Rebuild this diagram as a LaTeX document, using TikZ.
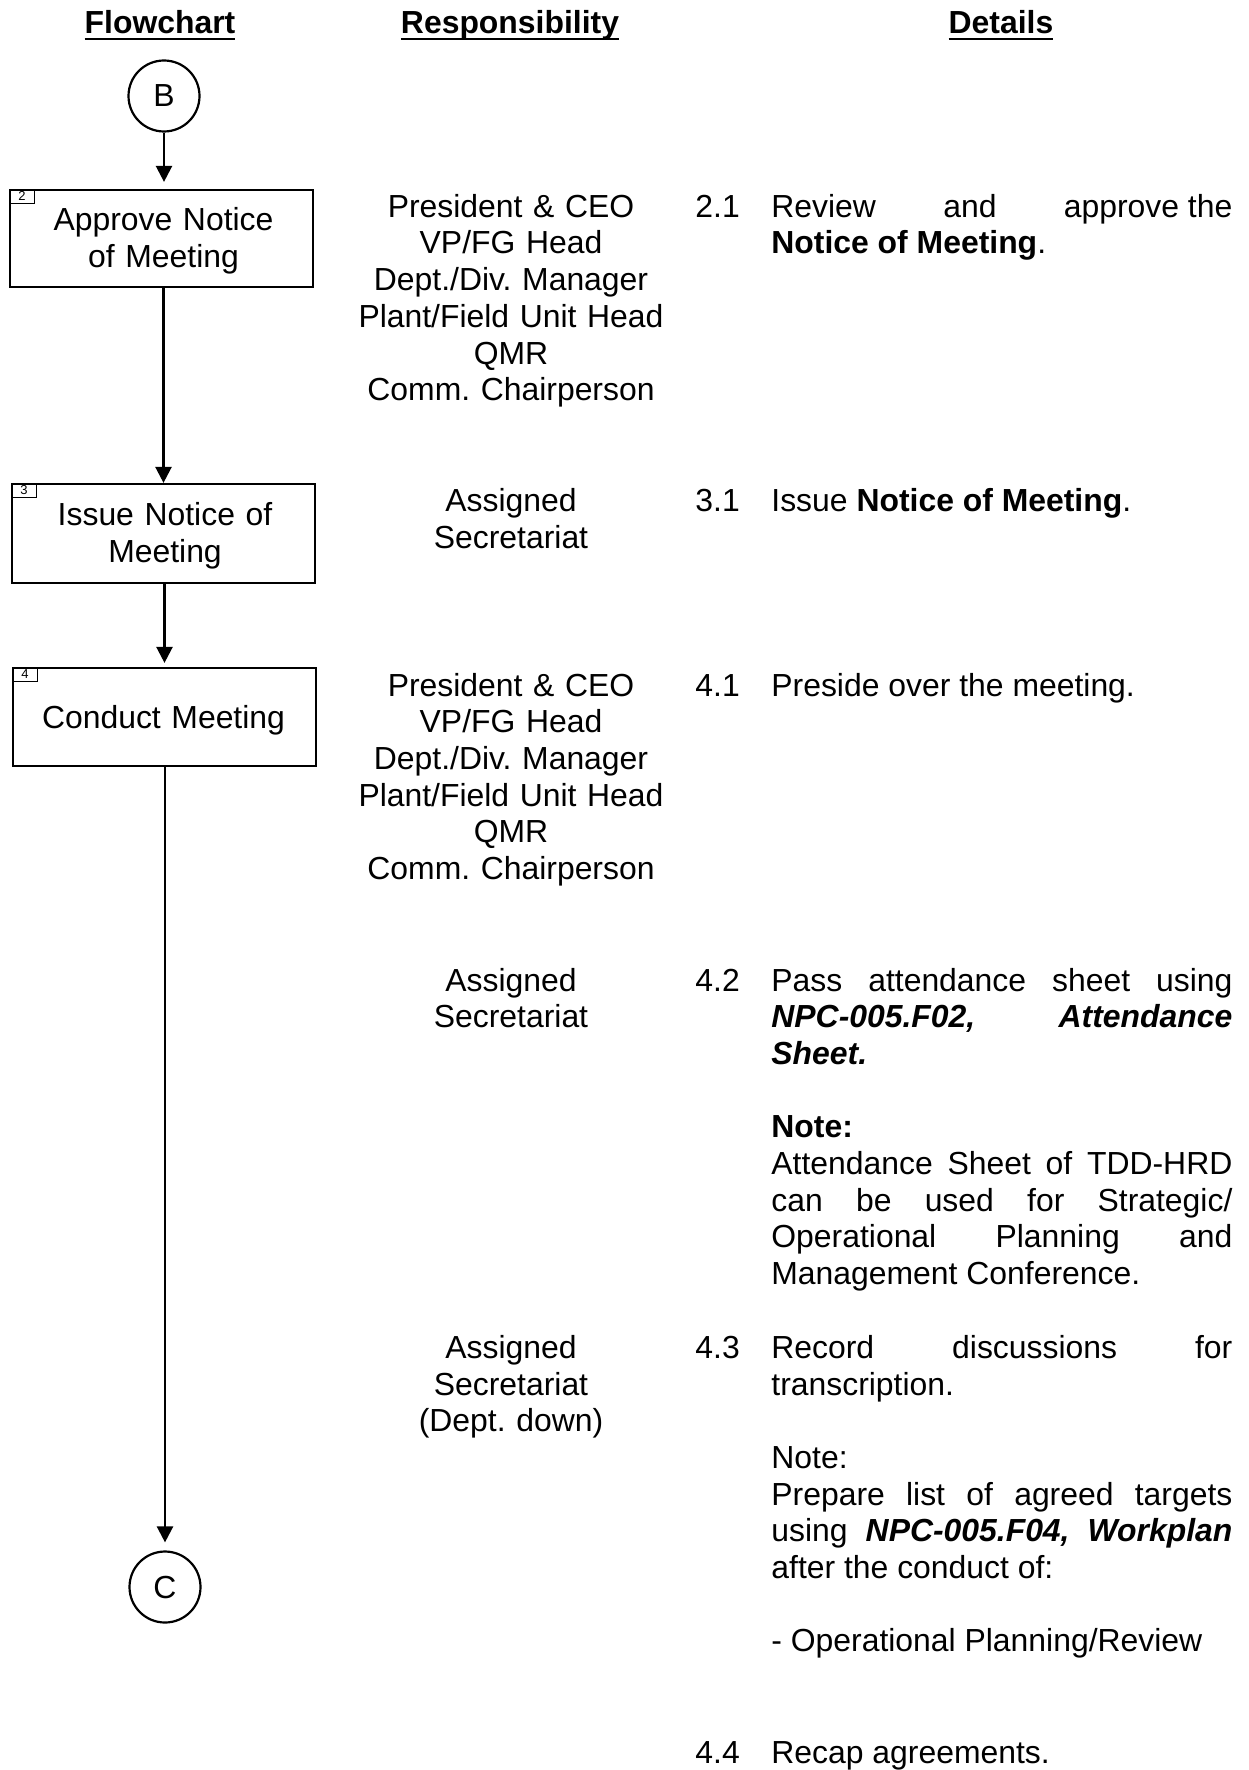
\documentclass[tikz,border=0pt]{standalone}
\usepackage{fontspec}
\setmainfont{Liberation Sans}
\usetikzlibrary{arrows.meta}
\frenchspacing

\newcommand{\hdul}[1]{\setbox0=\hbox{#1}\rlap{\rule[-3pt]{\wd0}{1pt}}\box0}

\begin{document}
\begin{tikzpicture}[x=0.5pt, y=-0.5pt,
  every node/.style={inner sep=0pt, font=\fontsize{15.95}{18.35}\selectfont},
  >={Triangle[length=8pt, width=8pt]},
  flow/.style={->, line width=1.2pt},
  stepbox/.style={draw, line width=1.1pt, minimum width=151.5pt},
  numbox/.style={draw, line width=0.5pt, anchor=north west, minimum width=12.5pt, minimum height=7pt, font=\fontsize{6.5}{7}\selectfont},
  boxtext/.style={anchor=base, text width=150pt, align=center},
  conn/.style={draw, circle, line width=1.1pt, minimum size=35.5pt},
  resp/.style={anchor=base, text width=170pt, align=center},
  num/.style={anchor=base west},
  detail/.style={anchor=base west, text width=230.5pt, align=justify, font=\fontsize{15.95}{18.35}\selectfont\sloppy},
  head/.style={anchor=base, font=\fontsize{15.95}{18.35}\selectfont\bfseries}]

\useasboundingbox (0,0) rectangle (1248,1770);

% column headings
\node[head] (hflow) at (160,34) {\hdul{Flowchart}};
\node[head] (hresp) at (510,34) {\hdul{Responsibility}};
\node[head] (hdet) at (1001,34) {\hdul{Details}};

% flowchart
\node[conn] (B) at (164,96) {B};

\node[stepbox, minimum height=48.5pt] (s2) at (161.5,238.5) {};
\node[numbox] (n2) at (s2.north west) {2};
\node[boxtext] (t2) at (163.5,230.5) {Approve Notice\\of Meeting};

\node[stepbox, minimum height=49.5pt] (s3) at (163.5,533.5) {};
\node[numbox] (n3) at (s3.north west) {3};
\node[boxtext] (t3) at (165,525.5) {Issue Notice of\\Meeting};

\node[stepbox, minimum height=49pt] (s4) at (164.5,717) {};
\node[numbox] (n4) at (s4.north west) {4};
\node[boxtext] (t4) at (163.5,728.5) {Conduct Meeting};

\node[conn] (C) at (165,1587) {C};

\draw[flow, shorten >=3.5pt] (B) -- (B |- s2.north);
\draw[flow] (s3.north |- s2.south) -- (s3.north);
\draw[flow, shorten >=2pt] (s4.north |- s3.south) -- (s4.north);
\draw[flow, shorten >=4pt] (C |- s4.south) -- (C);

% responsibility
\node[resp] (r2) at (511,217.3) {President \& CEO\\VP/FG Head\\Dept./Div. Manager\\Plant/Field Unit Head\\QMR\\Comm. Chairperson};
\node[resp] (r3) at (511,511.7) {Assigned\\Secretariat};
\node[resp] (r41) at (511,696) {President \& CEO\\VP/FG Head\\Dept./Div. Manager\\Plant/Field Unit Head\\QMR\\Comm. Chairperson};
\node[resp] (r42) at (511,991) {Assigned\\Secretariat};
\node[resp] (r43) at (511,1358.3) {Assigned\\Secretariat\\(Dept. down)};

% details
\node[num] (n21) at (695,217.3) {2.1};
\node[detail] (d21) at (771,217.3) {Review\hfill and\hfill approve the\linebreak
  \textbf{Notice of Meeting}.};

\node[num] (n31) at (695,511.7) {3.1};
\node[detail] (d31) at (771,511.7) {Issue \textbf{Notice of Meeting}.};

\node[num] (n41) at (695,696) {4.1};
\node[detail] (d41) at (771,696) {Preside over the meeting.};

\node[num] (n42) at (695,991) {4.2};
\node[detail] (d42) at (771,991) {Pass attendance sheet using\linebreak
  \textbf{\textit{NPC-005.F02, Attendance\linebreak Sheet.}}\par
  \vskip\baselineskip
  \textbf{Note:}\newline
  Attendance Sheet of TDD-HRD\linebreak
  can be used for Strategic/\linebreak
  Operational Planning and\linebreak
  Management Conference.};

\node[num] (n43) at (695,1358.3) {4.3};
\node[detail] (d43) at (771,1358.3) {Record discussions for\linebreak
  transcription.\par
  \vskip\baselineskip
  Note:\newline
  Prepare list of agreed targets\linebreak
  using \textbf{\textit{NPC-005.F04, Workplan}}\linebreak
  after the conduct of:\par
  \vskip\baselineskip
  - Operational Planning/Review};

\node[num] (n44) at (695,1763) {4.4};
\node[detail] (d44) at (771,1763) {Recap agreements.};

\end{tikzpicture}
\end{document}
